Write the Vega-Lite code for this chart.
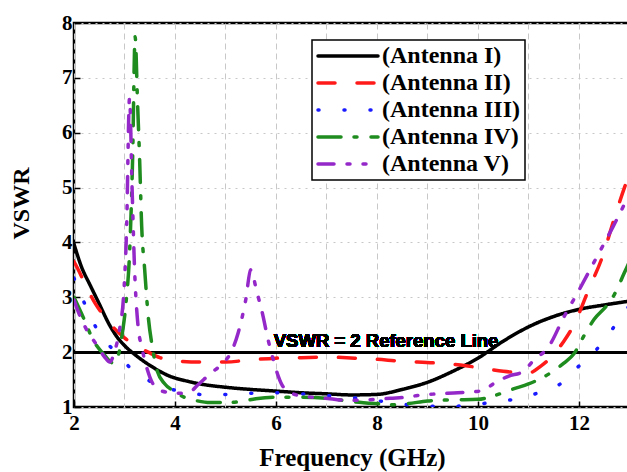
{
  "$schema": "https://vega.github.io/schema/vega-lite/v6.json",
  "autosize": {"type": "none"},
  "padding": {"left": 74, "top": 23, "right": 0, "bottom": 65},
  "width": 556,
  "height": 384,
  "background": "white",
  "config": {
    "view": {"stroke": "black", "strokeWidth": 2.5},
    "axis": {
      "labelFont": "Liberation Serif", "labelFontWeight": "bold", "labelFontSize": 21, "labelColor": "black",
      "titleFont": "Liberation Serif", "titleFontWeight": "bold", "titleColor": "black",
      "domain": false, "tickColor": "black", "tickWidth": 1.5, "labelFlush": false
    },
    "legend": {"strokeWidth": 1.5}
  },
  "data": {"values": [
    {"f": 2.0, "v": 3.97, "a": "(Antenna I)"},
    {"f": 2.15, "v": 3.55, "a": "(Antenna I)"},
    {"f": 2.32, "v": 3.22, "a": "(Antenna I)"},
    {"f": 2.5, "v": 2.88, "a": "(Antenna I)"},
    {"f": 2.7, "v": 2.5, "a": "(Antenna I)"},
    {"f": 2.85, "v": 2.28, "a": "(Antenna I)"},
    {"f": 3.0, "v": 2.12, "a": "(Antenna I)"},
    {"f": 3.24, "v": 1.93, "a": "(Antenna I)"},
    {"f": 3.57, "v": 1.72, "a": "(Antenna I)"},
    {"f": 3.9, "v": 1.56, "a": "(Antenna I)"},
    {"f": 4.2, "v": 1.48, "a": "(Antenna I)"},
    {"f": 4.5, "v": 1.42, "a": "(Antenna I)"},
    {"f": 5.0, "v": 1.36, "a": "(Antenna I)"},
    {"f": 5.5, "v": 1.32, "a": "(Antenna I)"},
    {"f": 6.0, "v": 1.29, "a": "(Antenna I)"},
    {"f": 6.5, "v": 1.26, "a": "(Antenna I)"},
    {"f": 7.0, "v": 1.24, "a": "(Antenna I)"},
    {"f": 7.5, "v": 1.22, "a": "(Antenna I)"},
    {"f": 8.0, "v": 1.23, "a": "(Antenna I)"},
    {"f": 8.5, "v": 1.32, "a": "(Antenna I)"},
    {"f": 9.0, "v": 1.45, "a": "(Antenna I)"},
    {"f": 9.5, "v": 1.65, "a": "(Antenna I)"},
    {"f": 10.0, "v": 1.89, "a": "(Antenna I)"},
    {"f": 10.5, "v": 2.2, "a": "(Antenna I)"},
    {"f": 11.0, "v": 2.46, "a": "(Antenna I)"},
    {"f": 11.5, "v": 2.65, "a": "(Antenna I)"},
    {"f": 12.0, "v": 2.78, "a": "(Antenna I)"},
    {"f": 12.5, "v": 2.86, "a": "(Antenna I)"},
    {"f": 13.0, "v": 2.93, "a": "(Antenna I)"},

    {"f": 2.0, "v": 3.65, "a": "(Antenna II)"},
    {"f": 2.07, "v": 3.53, "a": "(Antenna II)"},
    {"f": 2.25, "v": 3.18, "a": "(Antenna II)"},
    {"f": 2.42, "v": 2.89, "a": "(Antenna II)"},
    {"f": 2.6, "v": 2.65, "a": "(Antenna II)"},
    {"f": 2.79, "v": 2.44, "a": "(Antenna II)"},
    {"f": 3.0, "v": 2.26, "a": "(Antenna II)"},
    {"f": 3.2, "v": 2.13, "a": "(Antenna II)"},
    {"f": 3.47, "v": 2.0, "a": "(Antenna II)"},
    {"f": 3.7, "v": 1.9, "a": "(Antenna II)"},
    {"f": 4.0, "v": 1.84, "a": "(Antenna II)"},
    {"f": 4.5, "v": 1.82, "a": "(Antenna II)"},
    {"f": 5.0, "v": 1.82, "a": "(Antenna II)"},
    {"f": 5.5, "v": 1.86, "a": "(Antenna II)"},
    {"f": 6.0, "v": 1.89, "a": "(Antenna II)"},
    {"f": 6.5, "v": 1.9, "a": "(Antenna II)"},
    {"f": 7.0, "v": 1.91, "a": "(Antenna II)"},
    {"f": 7.56, "v": 1.89, "a": "(Antenna II)"},
    {"f": 8.0, "v": 1.87, "a": "(Antenna II)"},
    {"f": 8.4, "v": 1.84, "a": "(Antenna II)"},
    {"f": 9.2, "v": 1.8, "a": "(Antenna II)"},
    {"f": 9.6, "v": 1.77, "a": "(Antenna II)"},
    {"f": 10.0, "v": 1.72, "a": "(Antenna II)"},
    {"f": 10.5, "v": 1.65, "a": "(Antenna II)"},
    {"f": 11.0, "v": 1.62, "a": "(Antenna II)"},
    {"f": 11.25, "v": 1.75, "a": "(Antenna II)"},
    {"f": 11.47, "v": 1.93, "a": "(Antenna II)"},
    {"f": 11.7, "v": 2.2, "a": "(Antenna II)"},
    {"f": 11.9, "v": 2.5, "a": "(Antenna II)"},
    {"f": 12.2, "v": 3.16, "a": "(Antenna II)"},
    {"f": 12.46, "v": 3.73, "a": "(Antenna II)"},
    {"f": 12.7, "v": 4.44, "a": "(Antenna II)"},
    {"f": 12.9, "v": 5.0, "a": "(Antenna II)"},
    {"f": 13.0, "v": 5.25, "a": "(Antenna II)"},

    {"f": 2.0, "v": 3.35, "a": "(Antenna III)"},
    {"f": 2.18, "v": 2.95, "a": "(Antenna III)"},
    {"f": 2.35, "v": 2.6, "a": "(Antenna III)"},
    {"f": 2.55, "v": 2.28, "a": "(Antenna III)"},
    {"f": 2.85, "v": 1.98, "a": "(Antenna III)"},
    {"f": 3.14, "v": 1.69, "a": "(Antenna III)"},
    {"f": 3.55, "v": 1.45, "a": "(Antenna III)"},
    {"f": 4.03, "v": 1.3, "a": "(Antenna III)"},
    {"f": 4.5, "v": 1.23, "a": "(Antenna III)"},
    {"f": 5.0, "v": 1.23, "a": "(Antenna III)"},
    {"f": 5.5, "v": 1.25, "a": "(Antenna III)"},
    {"f": 6.0, "v": 1.26, "a": "(Antenna III)"},
    {"f": 6.5, "v": 1.24, "a": "(Antenna III)"},
    {"f": 7.0, "v": 1.21, "a": "(Antenna III)"},
    {"f": 7.4, "v": 1.18, "a": "(Antenna III)"},
    {"f": 7.9, "v": 1.13, "a": "(Antenna III)"},
    {"f": 8.4, "v": 1.06, "a": "(Antenna III)"},
    {"f": 8.8, "v": 1.03, "a": "(Antenna III)"},
    {"f": 9.35, "v": 1.01, "a": "(Antenna III)"},
    {"f": 9.84, "v": 1.03, "a": "(Antenna III)"},
    {"f": 10.3, "v": 1.09, "a": "(Antenna III)"},
    {"f": 10.83, "v": 1.16, "a": "(Antenna III)"},
    {"f": 11.23, "v": 1.27, "a": "(Antenna III)"},
    {"f": 11.66, "v": 1.44, "a": "(Antenna III)"},
    {"f": 11.98, "v": 1.73, "a": "(Antenna III)"},
    {"f": 12.3, "v": 2.0, "a": "(Antenna III)"},
    {"f": 12.6, "v": 2.34, "a": "(Antenna III)"},
    {"f": 12.85, "v": 2.67, "a": "(Antenna III)"},
    {"f": 13.0, "v": 2.85, "a": "(Antenna III)"},

    {"f": 2.0, "v": 3.0, "a": "(Antenna IV)"},
    {"f": 2.2, "v": 2.6, "a": "(Antenna IV)"},
    {"f": 2.38, "v": 2.22, "a": "(Antenna IV)"},
    {"f": 2.6, "v": 1.95, "a": "(Antenna IV)"},
    {"f": 2.78, "v": 1.8, "a": "(Antenna IV)"},
    {"f": 2.88, "v": 1.95, "a": "(Antenna IV)"},
    {"f": 2.95, "v": 2.3, "a": "(Antenna IV)"},
    {"f": 3.03, "v": 2.9, "a": "(Antenna IV)"},
    {"f": 3.1, "v": 3.8, "a": "(Antenna IV)"},
    {"f": 3.16, "v": 5.5, "a": "(Antenna IV)"},
    {"f": 3.21, "v": 7.75, "a": "(Antenna IV)"},
    {"f": 3.26, "v": 6.5, "a": "(Antenna IV)"},
    {"f": 3.3, "v": 5.5, "a": "(Antenna IV)"},
    {"f": 3.34, "v": 4.3, "a": "(Antenna IV)"},
    {"f": 3.4, "v": 3.5, "a": "(Antenna IV)"},
    {"f": 3.47, "v": 2.65, "a": "(Antenna IV)"},
    {"f": 3.55, "v": 2.1, "a": "(Antenna IV)"},
    {"f": 3.65, "v": 1.65, "a": "(Antenna IV)"},
    {"f": 3.8, "v": 1.42, "a": "(Antenna IV)"},
    {"f": 4.0, "v": 1.28, "a": "(Antenna IV)"},
    {"f": 4.2, "v": 1.17, "a": "(Antenna IV)"},
    {"f": 4.4, "v": 1.12, "a": "(Antenna IV)"},
    {"f": 4.7, "v": 1.08, "a": "(Antenna IV)"},
    {"f": 5.0, "v": 1.08, "a": "(Antenna IV)"},
    {"f": 5.3, "v": 1.1, "a": "(Antenna IV)"},
    {"f": 5.6, "v": 1.15, "a": "(Antenna IV)"},
    {"f": 6.0, "v": 1.18, "a": "(Antenna IV)"},
    {"f": 6.5, "v": 1.18, "a": "(Antenna IV)"},
    {"f": 7.0, "v": 1.16, "a": "(Antenna IV)"},
    {"f": 7.5, "v": 1.1, "a": "(Antenna IV)"},
    {"f": 8.0, "v": 1.06, "a": "(Antenna IV)"},
    {"f": 8.3, "v": 1.04, "a": "(Antenna IV)"},
    {"f": 8.6, "v": 1.06, "a": "(Antenna IV)"},
    {"f": 9.0, "v": 1.11, "a": "(Antenna IV)"},
    {"f": 9.5, "v": 1.13, "a": "(Antenna IV)"},
    {"f": 10.0, "v": 1.14, "a": "(Antenna IV)"},
    {"f": 10.3, "v": 1.2, "a": "(Antenna IV)"},
    {"f": 10.7, "v": 1.33, "a": "(Antenna IV)"},
    {"f": 11.0, "v": 1.42, "a": "(Antenna IV)"},
    {"f": 11.4, "v": 1.6, "a": "(Antenna IV)"},
    {"f": 11.7, "v": 1.8, "a": "(Antenna IV)"},
    {"f": 11.9, "v": 1.97, "a": "(Antenna IV)"},
    {"f": 12.1, "v": 2.3, "a": "(Antenna IV)"},
    {"f": 12.3, "v": 2.6, "a": "(Antenna IV)"},
    {"f": 12.55, "v": 2.85, "a": "(Antenna IV)"},
    {"f": 12.7, "v": 3.05, "a": "(Antenna IV)"},
    {"f": 12.9, "v": 3.45, "a": "(Antenna IV)"},
    {"f": 13.0, "v": 3.65, "a": "(Antenna IV)"},

    {"f": 2.0, "v": 2.95, "a": "(Antenna V)"},
    {"f": 2.1, "v": 2.7, "a": "(Antenna V)"},
    {"f": 2.22, "v": 2.46, "a": "(Antenna V)"},
    {"f": 2.45, "v": 2.13, "a": "(Antenna V)"},
    {"f": 2.6, "v": 1.92, "a": "(Antenna V)"},
    {"f": 2.71, "v": 1.82, "a": "(Antenna V)"},
    {"f": 2.8, "v": 2.0, "a": "(Antenna V)"},
    {"f": 2.91, "v": 2.46, "a": "(Antenna V)"},
    {"f": 2.98, "v": 3.0, "a": "(Antenna V)"},
    {"f": 3.04, "v": 4.2, "a": "(Antenna V)"},
    {"f": 3.1, "v": 6.63, "a": "(Antenna V)"},
    {"f": 3.15, "v": 5.0, "a": "(Antenna V)"},
    {"f": 3.2, "v": 3.5, "a": "(Antenna V)"},
    {"f": 3.27, "v": 2.46, "a": "(Antenna V)"},
    {"f": 3.34, "v": 2.1, "a": "(Antenna V)"},
    {"f": 3.5, "v": 1.55, "a": "(Antenna V)"},
    {"f": 3.7, "v": 1.3, "a": "(Antenna V)"},
    {"f": 4.05, "v": 1.25, "a": "(Antenna V)"},
    {"f": 4.3, "v": 1.28, "a": "(Antenna V)"},
    {"f": 4.45, "v": 1.4, "a": "(Antenna V)"},
    {"f": 4.7, "v": 1.61, "a": "(Antenna V)"},
    {"f": 4.95, "v": 1.8, "a": "(Antenna V)"},
    {"f": 5.1, "v": 1.98, "a": "(Antenna V)"},
    {"f": 5.25, "v": 2.35, "a": "(Antenna V)"},
    {"f": 5.4, "v": 2.95, "a": "(Antenna V)"},
    {"f": 5.5, "v": 3.5, "a": "(Antenna V)"},
    {"f": 5.62, "v": 3.1, "a": "(Antenna V)"},
    {"f": 5.72, "v": 2.75, "a": "(Antenna V)"},
    {"f": 5.85, "v": 2.2, "a": "(Antenna V)"},
    {"f": 5.95, "v": 1.85, "a": "(Antenna V)"},
    {"f": 6.05, "v": 1.55, "a": "(Antenna V)"},
    {"f": 6.14, "v": 1.37, "a": "(Antenna V)"},
    {"f": 6.4, "v": 1.22, "a": "(Antenna V)"},
    {"f": 6.7, "v": 1.18, "a": "(Antenna V)"},
    {"f": 7.07, "v": 1.15, "a": "(Antenna V)"},
    {"f": 7.4, "v": 1.12, "a": "(Antenna V)"},
    {"f": 7.8, "v": 1.13, "a": "(Antenna V)"},
    {"f": 8.26, "v": 1.16, "a": "(Antenna V)"},
    {"f": 8.6, "v": 1.18, "a": "(Antenna V)"},
    {"f": 8.8, "v": 1.21, "a": "(Antenna V)"},
    {"f": 9.2, "v": 1.24, "a": "(Antenna V)"},
    {"f": 9.6, "v": 1.26, "a": "(Antenna V)"},
    {"f": 10.1, "v": 1.3, "a": "(Antenna V)"},
    {"f": 10.3, "v": 1.42, "a": "(Antenna V)"},
    {"f": 10.6, "v": 1.56, "a": "(Antenna V)"},
    {"f": 10.9, "v": 1.65, "a": "(Antenna V)"},
    {"f": 11.1, "v": 1.85, "a": "(Antenna V)"},
    {"f": 11.4, "v": 2.1, "a": "(Antenna V)"},
    {"f": 11.7, "v": 2.64, "a": "(Antenna V)"},
    {"f": 12.0, "v": 3.13, "a": "(Antenna V)"},
    {"f": 12.35, "v": 3.73, "a": "(Antenna V)"},
    {"f": 12.67, "v": 4.28, "a": "(Antenna V)"},
    {"f": 12.9, "v": 4.7, "a": "(Antenna V)"},
    {"f": 13.0, "v": 4.9, "a": "(Antenna V)"}
  ]},
  "layer": [
    {
      "mark": {"type": "rule", "color": "black", "strokeWidth": 2},
      "encoding": {
        "y": {"datum": 2, "type": "quantitative", "scale": {"domain": [1, 8], "nice": false}}
      }
    },
    {
      "mark": {"type": "text", "font": "Liberation Sans", "fontWeight": "bold", "fontSize": 18.5, "color": "black", "align": "center", "baseline": "alphabetic"},
      "encoding": {
        "x": {"datum": 8.18, "type": "quantitative"},
        "y": {"datum": 2.1, "type": "quantitative"},
        "text": {"value": "VSWR = 2 Reference Line"}
      }
    },
    {
      "mark": {"type": "line", "strokeWidth": 3.5, "strokeCap": "round", "interpolate": "monotone", "clip": true},
      "encoding": {
        "x": {
          "field": "f", "type": "quantitative",
          "scale": {"domain": [2, 13.01], "nice": false, "zero": false},
          "axis": {
            "title": "Frequency (GHz)", "titleFontSize": 25, "titleX": 278, "titleY": 58, "titleBaseline": "alphabetic", "titleAnchor": null,
            "values": [2, 3, 4, 5, 6, 7, 8, 9, 10, 11, 12, 13],
            "labelExpr": "datum.value % 2 === 0 ? format(datum.value, 'd') : ''",
            "labelPadding": 11,
            "tickSize": -6,
            "tickOpacity": {"condition": {"test": "datum.value % 2 !== 0", "value": 0}, "value": 1},
            "grid": true, "gridColor": "#c8c8c8", "gridDash": [6, 4], "gridWidth": 1
          }
        },
        "y": {
          "field": "v", "type": "quantitative",
          "scale": {"domain": [1, 8], "nice": false, "zero": false},
          "axis": {
            "title": "VSWR", "titleFontSize": 24, "titleAngle": -90, "titleX": -46, "titleY": 180, "titleBaseline": "alphabetic", "titleAlign": "center", "titleAnchor": null,
            "values": [1, 1.5, 2, 2.5, 3, 3.5, 4, 4.5, 5, 5.5, 6, 6.5, 7, 7.5, 8],
            "labelExpr": "datum.value % 1 === 0 ? format(datum.value, 'd') : ''",
            "labelPadding": 8,
            "tickSize": -6,
            "tickOpacity": {"condition": {"test": "datum.value % 1 !== 0", "value": 0}, "value": 1},
            "grid": true, "gridColor": "#c8c8c8", "gridDash": [2, 5], "gridWidth": 1
          }
        },
        "color": {
          "field": "a", "type": "nominal",
          "scale": {"domain": ["(Antenna I)", "(Antenna II)", "(Antenna III)", "(Antenna IV)", "(Antenna V)"],
                    "range": ["#000000", "#ff1a1a", "#1a1aff", "#1e8c1e", "#9428c8"]},
          "legend": {
            "orient": "none", "legendX": 238, "legendY": 17, "title": null,
            "symbolType": "M-1,0H5", "symbolSize": 400, "symbolStrokeWidth": 3.5,
            "labelFont": "Liberation Serif", "labelFontWeight": "bold", "labelFontSize": 24, "labelColor": "black",
            "labelOffset": 42, "labelLimit": 400,
            "strokeColor": "black", "fillColor": "white", "padding": 4, "rowPadding": 3,
            "encode": {"symbols": {"update": {"strokeCap": {"value": "round"}, "fillOpacity": {"value": 0}}}}
          }
        },
        "strokeDash": {
          "field": "a", "type": "nominal",
          "scale": {"domain": ["(Antenna I)", "(Antenna II)", "(Antenna III)", "(Antenna IV)", "(Antenna V)"],
                    "range": [[1, 0], [17, 22], [1, 25], [23, 13, 3, 14], [16, 13, 3, 13, 3, 13]]},
          "legend": null
        }
      }
    }
  ]
}
